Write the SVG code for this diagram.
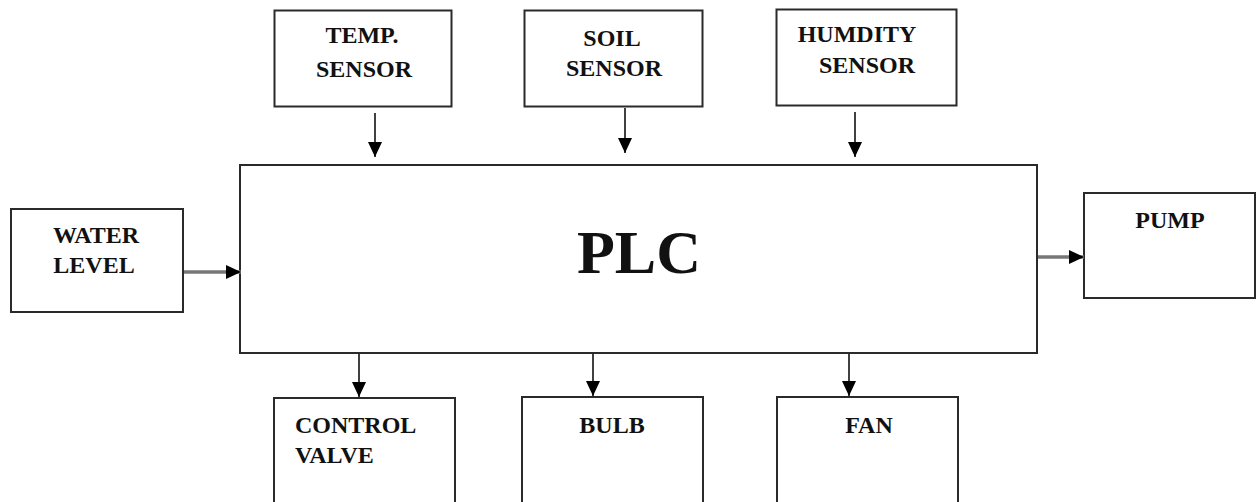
<svg xmlns="http://www.w3.org/2000/svg" width="1256" height="502" viewBox="0 0 1256 502">
<style>
.box{fill:#fff;stroke:#2a2a2a;stroke-width:2}
.t{font-family:"Liberation Serif","Times New Roman",serif;font-weight:bold;font-size:24px;fill:#111;text-anchor:middle}
.ln{stroke:#111;stroke-width:1.6;fill:none}
.gl{stroke:#777;stroke-width:3.5;fill:none}
</style>
<defs>
<marker id="ah" markerUnits="userSpaceOnUse" markerWidth="16" markerHeight="14" refX="15" refY="7" orient="auto">
<path d="M0,0 L15,7 L0,14 Z" fill="#000"/>
</marker>
</defs>
<rect width="1256" height="502" fill="#fff"/>
<g id="plc"><rect class="box" x="240" y="165" width="797" height="188"/><text x="639" y="273" style="font-family:'Liberation Serif','Times New Roman',serif;font-weight:bold;font-size:62px;fill:#111;text-anchor:middle">PLC</text></g>
<g id="temp"><rect class="box" x="274.5" y="10.5" width="177" height="96"/><text class="t" x="362" y="43">TEMP.</text><text class="t" x="364" y="77">SENSOR</text></g>
<g id="soil"><rect class="box" x="524.5" y="10.5" width="178" height="96"/><text class="t" x="612" y="46">SOIL</text><text class="t" x="614" y="76">SENSOR</text></g>
<g id="humidity"><rect class="box" x="776.5" y="9.5" width="180" height="96"/><text class="t" x="857" y="42">HUMDITY</text><text class="t" x="867" y="73">SENSOR</text></g>
<g id="water"><rect class="box" x="11" y="209" width="172" height="103"/><text class="t" x="96" y="243">WATER</text><text class="t" x="94" y="273">LEVEL</text></g>
<g id="pump"><rect class="box" x="1084" y="193" width="171" height="105"/><text class="t" x="1170" y="228">PUMP</text></g>
<g id="valve"><rect class="box" x="274" y="398" width="181" height="130"/><text class="t" x="295" y="433" style="text-anchor:start">CONTROL</text><text class="t" x="295" y="463" style="text-anchor:start">VALVE</text></g>
<g id="bulb"><rect class="box" x="522" y="397" width="181" height="130"/><text class="t" x="612" y="433">BULB</text></g>
<g id="fan"><rect class="box" x="777" y="397" width="181" height="130"/><text class="t" x="869" y="433">FAN</text></g>
<g id="connectors">
<line class="ln" x1="375" y1="113" x2="375" y2="157" marker-end="url(#ah)"/>
<line class="ln" x1="625" y1="108" x2="625" y2="153" marker-end="url(#ah)"/>
<line class="ln" x1="855" y1="112" x2="855" y2="157" marker-end="url(#ah)"/>
<line class="gl" x1="184" y1="272" x2="241" y2="272" marker-end="url(#ah)"/>
<line class="gl" x1="1038" y1="257" x2="1084" y2="257" marker-end="url(#ah)"/>
<line class="ln" x1="359" y1="354" x2="359" y2="397" marker-end="url(#ah)"/>
<line class="ln" x1="593" y1="354" x2="593" y2="396" marker-end="url(#ah)"/>
<line class="ln" x1="849" y1="354" x2="849" y2="396" marker-end="url(#ah)"/>
</g>
</svg>
